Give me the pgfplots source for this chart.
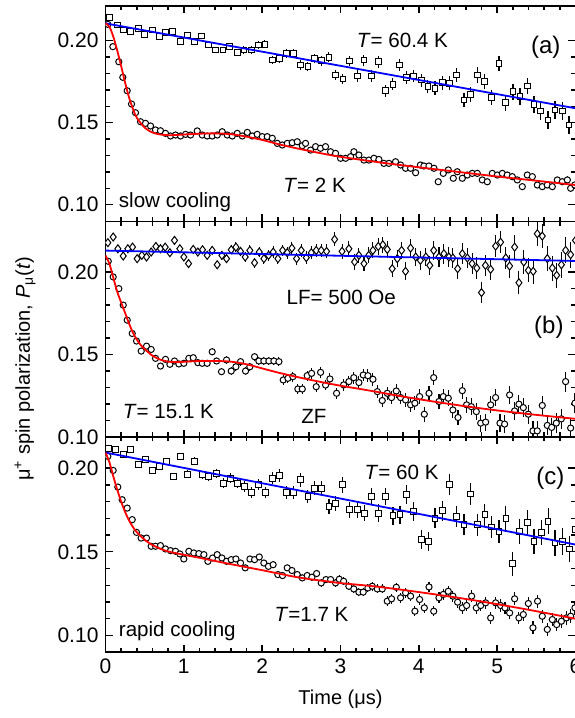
\documentclass[border=0pt]{standalone}
\usepackage{fontspec}
\setmainfont{Liberation Sans}
\usepackage{pgfplots}
\usepackage{pgfplotstable}
\pgfplotsset{compat=1.18}

% panel (a): slow cooling, T = 2 K (circles) and T = 60.4 K (squares)
\pgfplotstableread{
x y e
0.030 0.2100 0.0006
0.094 0.1964 0.0006
0.170 0.1872 0.0006
0.221 0.1777 0.0006
0.277 0.1695 0.0006
0.332 0.1614 0.0006
0.383 0.1561 0.0006
0.447 0.1506 0.0007
0.511 0.1496 0.0007
0.575 0.1480 0.0007
0.638 0.1456 0.0007
0.702 0.1451 0.0007
0.766 0.1435 0.0007
0.830 0.1419 0.0007
0.894 0.1425 0.0008
0.958 0.1419 0.0008
1.022 0.1429 0.0008
1.086 0.1425 0.0008
1.171 0.1450 0.0008
1.235 0.1425 0.0008
1.299 0.1419 0.0008
1.363 0.1419 0.0008
1.427 0.1425 0.0009
1.490 0.1445 0.0009
1.554 0.1425 0.0009
1.618 0.1419 0.0009
1.682 0.1435 0.0009
1.746 0.1419 0.0009
1.810 0.1441 0.0009
1.874 0.1419 0.0010
1.937 0.1429 0.0010
2.001 0.1415 0.0010
2.065 0.1415 0.0010
2.129 0.1405 0.0010
2.193 0.1374 0.0010
2.257 0.1364 0.0011
2.321 0.1374 0.0011
2.384 0.1378 0.0011
2.448 0.1384 0.0011
2.512 0.1360 0.0011
2.554 0.1374 0.0011
2.618 0.1333 0.0011
2.682 0.1354 0.0012
2.745 0.1344 0.0012
2.809 0.1354 0.0012
2.873 0.1323 0.0012
2.937 0.1313 0.0012
3.001 0.1283 0.0012
3.065 0.1283 0.0013
3.129 0.1293 0.0013
3.171 0.1323 0.0013
3.235 0.1303 0.0013
3.299 0.1272 0.0013
3.363 0.1272 0.0013
3.427 0.1283 0.0014
3.490 0.1276 0.0014
3.554 0.1252 0.0014
3.618 0.1252 0.0014
3.703 0.1262 0.0014
3.767 0.1242 0.0015
3.831 0.1222 0.0015
3.895 0.1222 0.0015
3.959 0.1195 0.0015
4.020 0.1242 0.0015
4.065 0.1236 0.0015
4.129 0.1236 0.0016
4.193 0.1222 0.0016
4.248 0.1140 0.0016
4.312 0.1191 0.0016
4.376 0.1212 0.0016
4.440 0.1161 0.0016
4.491 0.1201 0.0017
4.555 0.1161 0.0017
4.619 0.1181 0.0017
4.682 0.1191 0.0017
4.746 0.1191 0.0017
4.810 0.1151 0.0017
4.874 0.1140 0.0018
4.938 0.1191 0.0018
5.002 0.1181 0.0018
5.066 0.1191 0.0018
5.129 0.1181 0.0018
5.193 0.1171 0.0019
5.257 0.1151 0.0019
5.321 0.1110 0.0019
5.385 0.1181 0.0019
5.449 0.1171 0.0019
5.513 0.1120 0.0020
5.576 0.1110 0.0020
5.640 0.1120 0.0020
5.704 0.1110 0.0020
5.768 0.1151 0.0020
5.832 0.1140 0.0021
5.896 0.1151 0.0021
5.938 0.1100 0.0021
5.990 0.1120 0.0021
}\circA

\pgfplotstableread{
x y e
0.051 0.2142 0.0008
0.149 0.2096 0.0009
0.234 0.2065 0.0010
0.319 0.2055 0.0010
0.417 0.2075 0.0011
0.502 0.2039 0.0012
0.596 0.2065 0.0013
0.690 0.2025 0.0014
0.766 0.2051 0.0014
0.860 0.2055 0.0015
0.958 0.1994 0.0016
1.043 0.2035 0.0016
1.141 0.1994 0.0017
1.226 0.2029 0.0018
1.320 0.1974 0.0019
1.405 0.1943 0.0019
1.499 0.1943 0.0020
1.588 0.1964 0.0021
1.682 0.1927 0.0021
1.767 0.1943 0.0022
1.860 0.1943 0.0023
1.950 0.1974 0.0024
2.035 0.1978 0.0024
2.129 0.1882 0.0025
2.222 0.1893 0.0026
2.312 0.1923 0.0026
2.397 0.1923 0.0027
2.490 0.1852 0.0028
2.584 0.1842 0.0029
2.669 0.1892 0.0029
2.758 0.1878 0.0030
2.852 0.1899 0.0031
2.937 0.1791 0.0031
3.031 0.1767 0.0032
3.120 0.1876 0.0033
3.214 0.1785 0.0034
3.299 0.1882 0.0034
3.393 0.1785 0.0035
3.482 0.1872 0.0036
3.576 0.1695 0.0037
3.669 0.1734 0.0037
3.754 0.1852 0.0038
3.844 0.1777 0.0039
3.937 0.1785 0.0039
4.031 0.1760 0.0040
4.116 0.1720 0.0041
4.206 0.1710 0.0042
4.299 0.1744 0.0042
4.393 0.1740 0.0043
4.478 0.1791 0.0044
4.576 0.1638 0.0045
4.661 0.1673 0.0045
4.746 0.1791 0.0046
4.840 0.1750 0.0047
4.929 0.1655 0.0047
5.023 0.1862 0.0048
5.108 0.1622 0.0049
5.202 0.1689 0.0050
5.291 0.1659 0.0050
5.385 0.1724 0.0051
5.470 0.1612 0.0052
5.555 0.1571 0.0052
5.649 0.1516 0.0053
5.738 0.1577 0.0054
5.832 0.1571 0.0055
5.917 0.1486 0.0055
6.002 0.1622 0.0056
}\sqA

% panel (b): T = 15.1 K, ZF (circles) and LF = 500 Oe (diamonds)
\pgfplotstableread{
x y e
0.035 0.2065 0.0008
0.098 0.1970 0.0009
0.170 0.1899 0.0009
0.226 0.1799 0.0010
0.277 0.1708 0.0010
0.341 0.1627 0.0011
0.396 0.1581 0.0012
0.456 0.1520 0.0012
0.524 0.1550 0.0013
0.583 0.1530 0.0013
0.639 0.1476 0.0014
0.702 0.1429 0.0014
0.766 0.1470 0.0015
0.822 0.1440 0.0015
0.881 0.1460 0.0016
0.937 0.1442 0.0016
1.000 0.1446 0.0017
1.064 0.1476 0.0018
1.120 0.1480 0.0018
1.179 0.1450 0.0019
1.235 0.1446 0.0019
1.298 0.1446 0.0020
1.362 0.1516 0.0020
1.418 0.1460 0.0021
1.481 0.1395 0.0021
1.545 0.1466 0.0022
1.605 0.1399 0.0022
1.665 0.1425 0.0023
1.724 0.1456 0.0024
1.788 0.1399 0.0024
1.843 0.1425 0.0025
1.903 0.1486 0.0025
1.958 0.1460 0.0026
2.022 0.1460 0.0026
2.086 0.1460 0.0027
2.150 0.1460 0.0027
2.214 0.1456 0.0028
2.269 0.1345 0.0028
2.329 0.1355 0.0029
2.392 0.1365 0.0030
2.456 0.1290 0.0030
2.512 0.1290 0.0031
2.575 0.1371 0.0031
2.631 0.1385 0.0032
2.690 0.1304 0.0032
2.746 0.1391 0.0033
2.810 0.1314 0.0033
2.865 0.1351 0.0034
2.950 0.1264 0.0035
3.040 0.1315 0.0035
3.107 0.1335 0.0036
3.170 0.1359 0.0037
3.235 0.1329 0.0037
3.290 0.1375 0.0038
3.350 0.1371 0.0038
3.414 0.1349 0.0039
3.470 0.1274 0.0039
3.533 0.1220 0.0040
3.597 0.1264 0.0040
3.652 0.1238 0.0041
3.712 0.1278 0.0041
3.767 0.1238 0.0042
3.831 0.1224 0.0042
3.895 0.1194 0.0043
3.950 0.1204 0.0044
4.010 0.1244 0.0044
4.070 0.1137 0.0045
4.130 0.1264 0.0045
4.190 0.1359 0.0046
4.257 0.1214 0.0046
4.312 0.1244 0.0047
4.376 0.1234 0.0047
4.435 0.1163 0.0048
4.500 0.1117 0.0048
4.555 0.1280 0.0049
4.610 0.1194 0.0050
4.670 0.1183 0.0050
4.734 0.1153 0.0051
4.790 0.1083 0.0051
4.853 0.1089 0.0052
4.917 0.1194 0.0052
4.980 0.1238 0.0053
5.036 0.1083 0.0053
5.095 0.1077 0.0054
5.159 0.1254 0.0054
5.223 0.1157 0.0055
5.278 0.1198 0.0056
5.334 0.1177 0.0056
5.398 0.1137 0.0057
5.457 0.1036 0.0057
5.512 0.1036 0.0058
5.576 0.1190 0.0058
5.640 0.1069 0.0059
5.696 0.1057 0.0059
5.755 0.1083 0.0060
5.819 0.1109 0.0060
5.874 0.1335 0.0061
5.938 0.1053 0.0062
5.993 0.1204 0.0062
}\circB

\pgfplotstableread{
x y e
0.030 0.2178 0.0009
0.098 0.2212 0.0009
0.158 0.2141 0.0010
0.226 0.2097 0.0011
0.285 0.2141 0.0011
0.345 0.2151 0.0012
0.404 0.2081 0.0013
0.464 0.2101 0.0014
0.524 0.2091 0.0014
0.583 0.2121 0.0015
0.643 0.2155 0.0016
0.702 0.2141 0.0016
0.762 0.2151 0.0017
0.822 0.2117 0.0018
0.881 0.2192 0.0019
0.949 0.2141 0.0019
1.000 0.2091 0.0020
1.060 0.2051 0.0021
1.120 0.2137 0.0021
1.179 0.2121 0.0022
1.239 0.2135 0.0023
1.298 0.2101 0.0024
1.362 0.2131 0.0024
1.426 0.2044 0.0025
1.486 0.2101 0.0026
1.545 0.2081 0.0027
1.605 0.2135 0.0027
1.665 0.2151 0.0028
1.724 0.2125 0.0029
1.784 0.2091 0.0029
1.843 0.2131 0.0030
1.903 0.2056 0.0031
1.963 0.2121 0.0032
2.022 0.2081 0.0032
2.082 0.2101 0.0033
2.141 0.2121 0.0034
2.201 0.2081 0.0034
2.261 0.2131 0.0035
2.320 0.2117 0.0036
2.380 0.2145 0.0037
2.439 0.2081 0.0037
2.499 0.2131 0.0038
2.563 0.2087 0.0039
2.627 0.2117 0.0040
2.690 0.2131 0.0040
2.754 0.2131 0.0041
2.822 0.2125 0.0042
2.925 0.2198 0.0043
3.020 0.2125 0.0044
3.107 0.2141 0.0045
3.180 0.2061 0.0046
3.235 0.2101 0.0047
3.300 0.2051 0.0047
3.360 0.2101 0.0048
3.414 0.2131 0.0049
3.482 0.2155 0.0050
3.540 0.2165 0.0050
3.597 0.2137 0.0051
3.660 0.2020 0.0052
3.725 0.2081 0.0053
3.780 0.2131 0.0053
3.830 0.2004 0.0054
3.895 0.2145 0.0055
3.960 0.2091 0.0055
4.020 0.2071 0.0056
4.090 0.2091 0.0057
4.140 0.2040 0.0058
4.190 0.2131 0.0058
4.257 0.2091 0.0059
4.320 0.2111 0.0060
4.384 0.2091 0.0061
4.435 0.2085 0.0061
4.495 0.2020 0.0062
4.555 0.2111 0.0063
4.620 0.2085 0.0063
4.680 0.2051 0.0064
4.740 0.2024 0.0065
4.800 0.1875 0.0066
4.850 0.2040 0.0066
4.917 0.2016 0.0067
4.980 0.2157 0.0068
5.044 0.2181 0.0068
5.110 0.2085 0.0069
5.159 0.2036 0.0070
5.223 0.2151 0.0071
5.278 0.1935 0.0071
5.340 0.2061 0.0072
5.398 0.2010 0.0073
5.460 0.2004 0.0074
5.512 0.2232 0.0074
5.576 0.2218 0.0075
5.640 0.2081 0.0076
5.704 0.2024 0.0076
5.760 0.1980 0.0077
5.820 0.2044 0.0078
5.874 0.2131 0.0079
5.938 0.2105 0.0079
6.000 0.2192 0.0080
}\diaB

% panel (c): rapid cooling, T = 1.7 K (circles) and T = 60 K (squares)
\pgfplotstableread{
x y e
0.030 0.2070 0.0006
0.098 0.1986 0.0007
0.157 0.1887 0.0007
0.213 0.1811 0.0007
0.277 0.1761 0.0008
0.341 0.1692 0.0008
0.396 0.1616 0.0008
0.455 0.1582 0.0009
0.524 0.1582 0.0009
0.583 0.1533 0.0009
0.639 0.1533 0.0010
0.702 0.1537 0.0010
0.766 0.1517 0.0011
0.830 0.1507 0.0011
0.894 0.1503 0.0011
0.950 0.1487 0.0012
1.000 0.1457 0.0012
1.064 0.1503 0.0012
1.128 0.1493 0.0013
1.192 0.1489 0.0013
1.256 0.1483 0.0013
1.307 0.1443 0.0014
1.367 0.1463 0.0014
1.426 0.1483 0.0015
1.486 0.1463 0.0015
1.546 0.1443 0.0015
1.605 0.1453 0.0016
1.665 0.1457 0.0016
1.724 0.1433 0.0016
1.784 0.1404 0.0017
1.844 0.1457 0.0017
1.903 0.1453 0.0017
1.963 0.1469 0.0018
2.022 0.1433 0.0018
2.080 0.1413 0.0019
2.140 0.1423 0.0019
2.200 0.1364 0.0019
2.260 0.1358 0.0020
2.320 0.1404 0.0020
2.380 0.1388 0.0020
2.448 0.1364 0.0021
2.512 0.1344 0.0021
2.575 0.1358 0.0022
2.635 0.1348 0.0022
2.695 0.1370 0.0022
2.754 0.1314 0.0023
2.814 0.1334 0.0023
2.874 0.1334 0.0023
2.937 0.1314 0.0024
2.985 0.1336 0.0024
3.040 0.1324 0.0024
3.107 0.1294 0.0025
3.170 0.1278 0.0025
3.235 0.1259 0.0026
3.290 0.1259 0.0026
3.350 0.1284 0.0026
3.405 0.1294 0.0027
3.470 0.1278 0.0027
3.533 0.1278 0.0027
3.597 0.1205 0.0028
3.652 0.1219 0.0028
3.712 0.1288 0.0028
3.767 0.1225 0.0029
3.831 0.1255 0.0029
3.895 0.1235 0.0030
3.950 0.1145 0.0030
4.010 0.1215 0.0030
4.070 0.1165 0.0031
4.130 0.1290 0.0031
4.190 0.1145 0.0031
4.257 0.1225 0.0032
4.312 0.1245 0.0032
4.376 0.1264 0.0033
4.435 0.1235 0.0033
4.495 0.1199 0.0033
4.555 0.1165 0.0034
4.610 0.1179 0.0034
4.674 0.1235 0.0034
4.734 0.1165 0.0035
4.790 0.1179 0.0035
4.853 0.1195 0.0035
4.917 0.1105 0.0036
4.980 0.1195 0.0036
5.044 0.1179 0.0037
5.100 0.1165 0.0037
5.159 0.1135 0.0037
5.223 0.1219 0.0038
5.278 0.1105 0.0038
5.334 0.1125 0.0038
5.398 0.1191 0.0039
5.457 0.1046 0.0039
5.516 0.1205 0.0039
5.576 0.1115 0.0040
5.640 0.1036 0.0040
5.704 0.1095 0.0041
5.760 0.1065 0.0041
5.820 0.1085 0.0041
5.884 0.1105 0.0042
5.938 0.1115 0.0042
5.993 0.1165 0.0042
}\circC

\pgfplotstableread{
x y e
0.043 0.2119 0.0010
0.130 0.2113 0.0012
0.226 0.2079 0.0013
0.320 0.2109 0.0014
0.417 0.2020 0.0015
0.510 0.2053 0.0016
0.596 0.1986 0.0017
0.694 0.2010 0.0018
0.779 0.2040 0.0019
0.873 0.1950 0.0020
0.958 0.2069 0.0021
1.050 0.1964 0.0023
1.140 0.2040 0.0024
1.234 0.1960 0.0025
1.320 0.1950 0.0026
1.413 0.1966 0.0027
1.503 0.1910 0.0028
1.596 0.1940 0.0029
1.682 0.1910 0.0030
1.775 0.1890 0.0031
1.865 0.1854 0.0032
1.950 0.1900 0.0033
2.043 0.1854 0.0035
2.130 0.1940 0.0036
2.222 0.1956 0.0037
2.312 0.1854 0.0038
2.397 0.1854 0.0039
2.490 0.1930 0.0040
2.584 0.1831 0.0041
2.669 0.1880 0.0042
2.759 0.1880 0.0043
2.853 0.1771 0.0044
2.938 0.1789 0.0045
3.030 0.1900 0.0046
3.120 0.1751 0.0047
3.214 0.1751 0.0049
3.307 0.1731 0.0050
3.397 0.1831 0.0051
3.490 0.1731 0.0052
3.576 0.1831 0.0053
3.670 0.1715 0.0054
3.759 0.1721 0.0055
3.844 0.1841 0.0056
3.937 0.1741 0.0057
4.030 0.1572 0.0058
4.120 0.1562 0.0059
4.206 0.1701 0.0060
4.300 0.1745 0.0061
4.393 0.1902 0.0062
4.482 0.1711 0.0063
4.576 0.1662 0.0064
4.660 0.1845 0.0065
4.750 0.1662 0.0066
4.844 0.1721 0.0067
4.930 0.1648 0.0068
5.023 0.1622 0.0070
5.112 0.1701 0.0071
5.200 0.1429 0.0072
5.287 0.1622 0.0073
5.385 0.1676 0.0074
5.470 0.1562 0.0075
5.564 0.1616 0.0076
5.650 0.1682 0.0077
5.738 0.1552 0.0078
5.832 0.1562 0.0079
5.925 0.1517 0.0080
6.000 0.1632 0.0081
}\sqC

\pgfplotsset{
  panel/.style={
    scale only axis, width=235pt, height=107.7pt,
    anchor=north west,
    xmin=0, xmax=6,
    xtick={0,...,6}, minor x tick num=4,
    ytick={0.10,0.15,0.20}, minor y tick num=4,
    yticklabel style={/pgf/number format/.cd, fixed, fixed zerofill, precision=2},
    scaled y ticks=false,
    /pgf/number format/assume math mode=true,
    tick label style={font=\fontsize{10.5}{12}\selectfont},
    label style={font=\fontsize{10}{12}\selectfont},
    axis line style={line width=0.8pt},
    every tick/.style={black, line width=0.7pt},
    major tick length=3.5pt, minor tick length=2.2pt,
    tick pos=both, tick align=inside,
    clip marker paths=true,
  },
  fit/.style={line width=0.9pt, no marks},
  pts/.style={only marks, mark options={fill=white, draw=black, line width=0.5pt},
    error bars/y dir=both, error bars/y explicit, error bars/error mark=none,
    error bars/error bar style={black, line width=0.55pt}},
}
\tikzset{
  txt/.style={font=\fontsize{10.3}{12}\selectfont, inner sep=0pt},
  lab/.style={font=\fontsize{12}{14}\selectfont, inner sep=0pt},
}

\begin{document}
\begin{tikzpicture}
% (a)
\begin{axis}[panel, at={(0pt,0pt)}, ymin=0.0898, ymax=0.2212, xticklabels={}]
  \addplot[pts, mark=square*, mark size=1.45pt] table[x=x, y=y, y error=e] {\sqA};
  \addplot[pts, mark=*, mark size=1.55pt] table[x=x, y=y, y error=e] {\circA};
  \addplot[fit, blue] coordinates {(0,0.2106) (6,0.1588)};
  \addplot[fit, red, smooth] coordinates {
    (0,0.2106) (0.05,0.2085) (0.1,0.2025) (0.15,0.1940) (0.2,0.1845)
    (0.25,0.1745) (0.3,0.1655) (0.35,0.1585) (0.4,0.1530) (0.5,0.1470)
    (0.6,0.1440) (0.7,0.1428) (0.8,0.1424) (0.9,0.1425) (1.0,0.1428)
    (1.2,0.1433) (1.4,0.1435) (1.6,0.1430) (1.8,0.1415) (2.0,0.1395)
    (2.2,0.1370) (2.4,0.1348) (2.6,0.1328) (2.8,0.1309) (3.0,0.1292)
    (3.5,0.1258) (4.0,0.1228) (4.5,0.1200) (5.0,0.1172) (5.5,0.1146)
    (6.0,0.1120)};
  \node[txt] at (axis cs:3.79,0.2005) {\textit{T}= 60.4 K};
  \node[lab] at (axis cs:5.62,0.1962) {(a)};
  \node[txt] at (axis cs:2.67,0.1118) {\textit{T}= 2 K};
  \node[txt, anchor=west] at (axis cs:0.166,0.1014) {slow cooling};
\end{axis}
% (b)
\begin{axis}[panel, at={(0pt,-107.7pt)}, ymin=0.10, ymax=0.2307, xticklabels={},
    ylabel={μ\textsuperscript{+} spin polarization, \textit{P}\textsubscript{μ}(\textit{t})},
    ylabel style={at={(axis description cs:-0.171,0.315)}, anchor=center}]
  \addplot[pts, mark=diamond*, mark size=2.0pt] table[x=x, y=y, y error=e] {\diaB};
  \addplot[pts, mark=*, mark size=1.55pt] table[x=x, y=y, y error=e] {\circB};
  \addplot[fit, blue] coordinates {(0,0.2130) (6,0.2067)};
  \addplot[fit, red, smooth] coordinates {
    (0,0.2101) (0.05,0.2050) (0.1,0.1965) (0.15,0.1880) (0.2,0.1815)
    (0.25,0.1752) (0.3,0.1688) (0.35,0.1632) (0.4,0.1590) (0.45,0.1557)
    (0.5,0.1532) (0.6,0.1492) (0.7,0.1468) (0.8,0.1456) (0.9,0.1453)
    (1.0,0.1455) (1.2,0.1460) (1.4,0.1460) (1.6,0.1456) (1.8,0.1440)
    (2.0,0.1415) (2.2,0.1390) (2.4,0.1368) (2.6,0.1347) (2.8,0.1328)
    (3.0,0.1310) (3.4,0.1278) (3.8,0.1244) (4.2,0.1213) (4.6,0.1185)
    (5.0,0.1160) (5.5,0.1133) (6.0,0.1109)};
  \node[txt] at (axis cs:3.01,0.1847) {LF= 500 Oe};
  \node[lab] at (axis cs:5.66,0.1665) {(b)};
  \node[txt, anchor=west] at (axis cs:0.217,0.1151) {\textit{T}= 15.1 K};
  \node[txt] at (axis cs:2.66,0.1121) {ZF};
\end{axis}
% (c)
\begin{axis}[panel, at={(0pt,-215.4pt)}, ymin=0.0900, ymax=0.2187,
    xlabel={Time (μs)},
    xlabel style={at={(axis description cs:0.5,-0.221)}, anchor=center}]
  \addplot[pts, mark=square*, mark size=1.45pt] table[x=x, y=y, y error=e] {\sqC};
  \addplot[pts, mark=*, mark size=1.55pt] table[x=x, y=y, y error=e] {\circC};
  \addplot[fit, blue] coordinates {(0,0.2093) (6,0.1543)};
  \addplot[fit, red, smooth] coordinates {
    (0,0.2093) (0.05,0.2035) (0.1,0.1950) (0.15,0.1871) (0.2,0.1800)
    (0.25,0.1738) (0.3,0.1688) (0.35,0.1648) (0.4,0.1617) (0.5,0.1572)
    (0.6,0.1540) (0.7,0.1518) (0.8,0.1502) (1.0,0.1482) (1.2,0.1464)
    (1.4,0.1445) (1.6,0.1426) (1.8,0.1408) (2.0,0.1390) (2.2,0.1371)
    (2.4,0.1352) (2.6,0.1337) (2.8,0.1325) (3.0,0.1313) (3.4,0.1295)
    (3.8,0.1272) (4.2,0.1246) (4.6,0.1218) (5.0,0.1187) (5.5,0.1145)
    (6.0,0.1100)};
  \node[txt] at (axis cs:3.78,0.1972) {\textit{T}= 60 K};
  \node[lab] at (axis cs:5.68,0.1942) {(c)};
  \node[txt] at (axis cs:2.63,0.1125) {\textit{T}=1.7 K};
  \node[txt, anchor=west] at (axis cs:0.166,0.1024) {rapid cooling};
\end{axis}
\pgfresetboundingbox
\path[use as bounding box] (-52.75pt,3pt) rectangle (234.5pt,-356pt);
\end{tikzpicture}
\end{document}
